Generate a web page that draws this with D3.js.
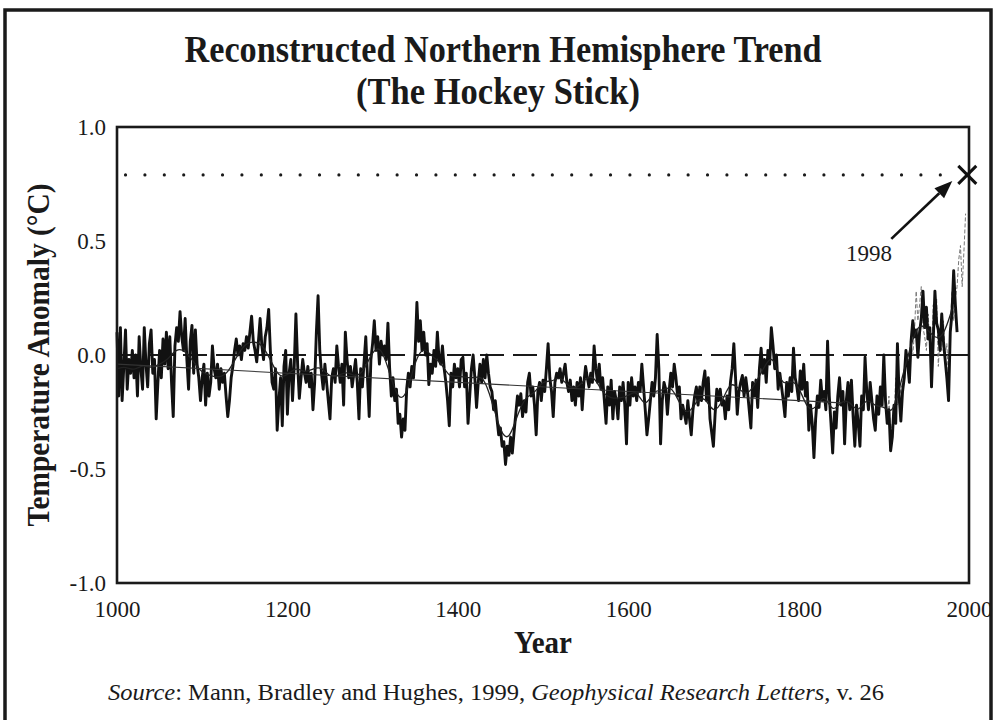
<!DOCTYPE html>
<html>
<head>
<meta charset="utf-8">
<script src="https://cdn.jsdelivr.net/npm/d3@7"></script>
<style>
  body { margin: 0; background: #fff; }
  svg { display: block; }
</style>
</head>
<body>
<script>
// Reconstructed NH temperature anomaly, one value every 2 years
var reconStart = 1000, reconStep = 2;
var recon1000 = [0.10,-0.18,0.12,-0.20,-0.05, 0.11,-0.15,-0.02,-0.08,0.02, -0.10,0.00,-0.18,0.08,-0.06, -0.15,0.12,-0.04,-0.14,0.05,
                 0.11,-0.08,-0.02,-0.28,-0.12, 0.02,-0.10,0.07,-0.04,0.10, -0.06,0.08,-0.12,-0.27,0.04, 0.12,0.06,0.19,0.08,0.02,
                 0.16,-0.02,-0.15,0.06,0.13, -0.08,0.11,-0.04,-0.10,-0.20];
var recon1100 = [-0.10,-0.04,-0.22,-0.08,-0.18, -0.12,0.04,-0.06,-0.10,-0.04, -0.15,-0.06,-0.12,-0.08,-0.18, -0.27,-0.20,-0.10,-0.05,0.02,
                 0.07,0.00,0.04,-0.02,0.05, 0.02,0.08,0.03,0.10,0.17, 0.06,0.02,-0.03,0.06,0.16, 0.04,-0.02,0.08,0.12,0.20,
                 0.02,-0.12,-0.15,-0.06,-0.33, -0.20,-0.10,-0.31,-0.05,0.02];
var recon1200 = [-0.26,-0.08,-0.02,-0.20,-0.05, 0.18,-0.04,-0.19,-0.10,-0.02, -0.08,-0.12,-0.05,-0.14,-0.08, -0.24,-0.12,0.10,0.26,0.02,
                 -0.08,-0.15,-0.04,-0.12,-0.20, -0.28,-0.10,-0.06,-0.12,0.04, -0.05,-0.12,-0.04,-0.22,0.10, -0.02,-0.10,-0.05,-0.14,-0.08,
                 -0.02,-0.12,-0.28,-0.06,-0.14, -0.03,0.08,-0.10,-0.27,-0.02];
var recon1300 = [0.05,0.15,0.02,0.08,-0.04, 0.06,0.00,0.04,-0.02,0.14, -0.06,-0.18,-0.10,-0.20,-0.15, -0.30,-0.26,-0.36,-0.28,-0.33,
                 -0.15,-0.08,-0.14,-0.05,-0.10, 0.02,0.23,0.06,0.15,0.02, 0.10,0.00,0.05,-0.13,-0.04, -0.08,0.02,-0.05,0.10,-0.02,
                 -0.04,0.04,-0.06,-0.12,-0.20, -0.31,-0.08,-0.14,-0.04,-0.10];
var recon1400 = [-0.06,-0.14,-0.02,-0.01,-0.14, -0.08,-0.30,-0.18,-0.06,0.00, -0.10,-0.23,-0.12,-0.04,-0.12, -0.02,-0.10,0.00,-0.08,-0.14,
                 -0.16,-0.24,-0.20,-0.28,-0.35, -0.32,-0.40,-0.38,-0.48,-0.40, -0.44,-0.36,-0.43,-0.34,-0.26, -0.18,-0.22,-0.17,-0.27,-0.20,
                 -0.25,-0.12,-0.08,-0.18,-0.14, -0.22,-0.35,-0.16,-0.12,-0.20];
var recon1500 = [-0.11,-0.16,-0.06,0.05,-0.10, -0.16,-0.27,-0.12,-0.08,-0.10, -0.06,-0.12,-0.08,-0.04,-0.12, -0.16,-0.11,-0.20,-0.14,-0.22,
                 -0.12,-0.18,-0.10,-0.24,-0.12, -0.05,-0.10,-0.14,-0.08,-0.12, 0.04,-0.06,-0.12,-0.04,-0.15, -0.10,-0.20,-0.30,-0.14,-0.22,
                 -0.11,-0.28,-0.16,-0.20,-0.28, -0.14,-0.20,-0.12,-0.22,-0.39];
var recon1600 = [-0.12,-0.22,-0.10,-0.18,-0.14, -0.20,-0.12,-0.16,-0.04,-0.14, -0.24,-0.35,-0.28,-0.20,-0.12, -0.18,-0.10,0.09,-0.06,-0.39,
                 -0.20,-0.12,-0.15,-0.26,-0.16, -0.08,-0.14,-0.04,-0.10,-0.18, -0.14,-0.28,-0.22,-0.26,-0.30, -0.20,-0.28,-0.35,-0.24,-0.18,
                 -0.14,-0.22,-0.14,-0.20,-0.12, -0.07,-0.20,-0.10,-0.28,-0.34];
var recon1700 = [-0.40,-0.26,-0.15,-0.20,-0.15, -0.22,-0.20,-0.28,-0.18,-0.24, -0.12,-0.06,0.05,-0.10,-0.26, -0.16,-0.12,-0.09,-0.18,-0.10,
                 -0.16,-0.24,-0.32,-0.12,-0.18, -0.11,-0.23,-0.06,0.03,-0.08, -0.02,-0.12,0.02,-0.04,0.12, 0.04,-0.06,0.00,-0.15,-0.08,
                 -0.14,-0.20,-0.27,-0.12,-0.18, -0.10,-0.16,0.03,-0.10,-0.14];
var recon1800 = [-0.20,-0.07,-0.15,-0.04,-0.18, -0.12,-0.33,-0.22,-0.30,-0.45, -0.28,-0.18,-0.23,-0.11,-0.20, -0.16,-0.24,0.06,-0.18,-0.30,
                 -0.43,-0.25,-0.32,-0.18,-0.10, -0.22,-0.16,-0.39,-0.20,-0.12, -0.24,-0.11,-0.27,-0.40,-0.22, -0.30,-0.40,-0.18,-0.24,-0.01,
                 -0.16,-0.24,-0.12,-0.20,-0.28, -0.33,-0.18,-0.26,-0.14,-0.22];
var recon1900 = [0.00,-0.20,-0.30,-0.24,-0.42, -0.36,-0.22,-0.30,0.05,-0.18, -0.29,-0.16,-0.10,0.02,-0.04, -0.12,0.06,0.15,0.08,0.11,
                 -0.01,0.10,0.16,0.28,0.12, 0.21,0.07,0.12,-0.14,0.06, 0.28,0.14,0.11,0.02,0.18, 0.06,-0.02,-0.10,-0.20,0.10,
                 0.18,0.37,0.22,0.10];

// 40-year smoothed reconstruction, one value per decade 1000..1980
var smoothStart = 1000, smoothStep = 10;
var smoothValues = [-0.06,-0.05,-0.07,-0.04,-0.06,-0.04,-0.02,0.03,0.02,-0.03,
                    -0.08,-0.09,-0.10,-0.08,-0.01,0.05,0.06,0.05,-0.02,-0.10,
                    -0.09,-0.05,-0.08,-0.06,-0.05,-0.10,-0.09,-0.07,-0.10,-0.07,
                    0.02,0.04,-0.08,-0.20,-0.18,-0.02,0.04,-0.01,-0.03,-0.10,
                    -0.09,-0.10,-0.10,-0.09,-0.20,-0.34,-0.38,-0.26,-0.18,-0.17,
                    -0.11,-0.12,-0.09,-0.14,-0.15,-0.10,-0.09,-0.17,-0.19,-0.19,
                    -0.18,-0.15,-0.24,-0.15,-0.16,-0.13,-0.21,-0.27,-0.20,-0.18,
                    -0.26,-0.21,-0.11,-0.15,-0.18,-0.12,-0.05,0.01,-0.14,-0.11,
                    -0.13,-0.24,-0.24,-0.16,-0.26,-0.20,-0.20,-0.26,-0.18,-0.23,
                    -0.22,-0.27,-0.12,0.02,0.14,0.12,0.07,0.08,0.20];

// instrumental record (thin grey), every 2 years 1902..1996
var instStart = 1902, instStep = 2;
var instValues = [-0.20,-0.30,-0.18,-0.35,-0.30,-0.28,-0.10,-0.22,-0.20,-0.15,-0.12,-0.10,0.00,-0.05,0.02,0.05,
                  0.00,0.10,0.28,0.15,0.22,0.30,0.12,0.08,0.02,0.18,0.05,-0.05,0.22,0.15,0.25,-0.05,
                  0.08,0.02,0.15,0.00,0.05,-0.12,0.12,0.28,0.15,0.25,0.30,0.42,0.48,0.30,0.45,0.62];

// linear trend 1000-1850
var trendYears = [1000, 1850];
var trendValues = [-0.04, -0.21];

var peakYear = 1998, peakValue = 0.79;
var zeroDashEnd = 1925;

var xTicks = [1000, 1200, 1400, 1600, 1800, 2000];
var yTicks = [-1.0, -0.5, 0.0, 0.5, 1.0];

var serif = "'Liberation Serif', 'Times New Roman', serif";

var svg = d3.select("body").append("svg")
    .attr("width", 996)
    .attr("height", 720);

// outer frame
svg.append("rect")
    .attr("x", 5).attr("y", 10)
    .attr("width", 986).attr("height", 740)
    .attr("fill", "none")
    .attr("stroke", "#1a1a1a")
    .attr("stroke-width", 3.5);

var x = d3.scaleLinear().domain([1000, 2000]).range([117, 969]);
var y = d3.scaleLinear().domain([-1, 1]).range([583, 127]);

// titles (condensed face in the original, so squeeze a larger size)
svg.append("text")
    .attr("x", 503).attr("y", 62)
    .attr("text-anchor", "middle")
    .attr("font-family", serif).attr("font-weight", "bold").attr("font-size", 37)
    .attr("textLength", 637).attr("lengthAdjust", "spacingAndGlyphs")
    .attr("fill", "#1a1a1a")
    .text("Reconstructed Northern Hemisphere Trend");
svg.append("text")
    .attr("x", 498).attr("y", 104)
    .attr("text-anchor", "middle")
    .attr("font-family", serif).attr("font-weight", "bold").attr("font-size", 37)
    .attr("textLength", 284).attr("lengthAdjust", "spacingAndGlyphs")
    .attr("fill", "#1a1a1a")
    .text("(The Hockey Stick)");

// zero line: dashed, then solid over the last decades
svg.append("line")
    .attr("x1", x(1000)).attr("x2", x(zeroDashEnd))
    .attr("y1", y(0)).attr("y2", y(0))
    .attr("stroke", "#1a1a1a").attr("stroke-width", 2)
    .attr("stroke-dasharray", "24,9");
svg.append("line")
    .attr("x1", x(zeroDashEnd)).attr("x2", x(2000))
    .attr("y1", y(0)).attr("y2", y(0))
    .attr("stroke", "#1a1a1a").attr("stroke-width", 2);

// dotted 1998 level
svg.append("line")
    .attr("x1", x(1010)).attr("x2", x(1975))
    .attr("y1", y(peakValue)).attr("y2", y(peakValue))
    .attr("stroke", "#1a1a1a").attr("stroke-width", 3.2)
    .attr("stroke-linecap", "round")
    .attr("stroke-dasharray", "0,19.4");

var recon = [].concat(recon1000, recon1100, recon1200, recon1300, recon1400,
                      recon1500, recon1600, recon1700, recon1800, recon1900);

var line = d3.line()
    .x(function(d) { return x(d[0]); })
    .y(function(d) { return y(d[1]); });

// instrumental
svg.append("path")
    .datum(instValues.map(function(v, i) { return [instStart + i * instStep, v]; }))
    .attr("d", line)
    .attr("fill", "none")
    .attr("stroke", "#777")
    .attr("stroke-width", 1)
    .attr("stroke-dasharray", "4,2");

// reconstruction (heavy)
svg.append("path")
    .datum(recon.map(function(v, i) { return [reconStart + i * reconStep, v]; }))
    .attr("d", line)
    .attr("fill", "none")
    .attr("stroke", "#111")
    .attr("stroke-width", 2.9)
    .attr("stroke-linejoin", "round");

// smoothed
svg.append("path")
    .datum(smoothValues.map(function(v, i) { return [smoothStart + i * smoothStep, v]; }))
    .attr("d", line.curve(d3.curveBasis))
    .attr("fill", "none")
    .attr("stroke", "#222")
    .attr("stroke-width", 1.3);

// linear trend
svg.append("line")
    .attr("x1", x(trendYears[0])).attr("x2", x(trendYears[1]))
    .attr("y1", y(trendValues[0])).attr("y2", y(trendValues[1]))
    .attr("stroke", "#333").attr("stroke-width", 1.1);

// plot frame
svg.append("rect")
    .attr("x", x(1000)).attr("y", y(1))
    .attr("width", x(2000) - x(1000)).attr("height", y(-1) - y(1))
    .attr("fill", "none")
    .attr("stroke", "#1a1a1a")
    .attr("stroke-width", 2.6);

// axes
var xAxis = svg.append("g")
    .attr("transform", "translate(0," + y(-1) + ")")
    .call(d3.axisBottom(x).tickValues(xTicks).tickSize(0).tickPadding(18).tickFormat(d3.format("d")));
var yAxis = svg.append("g")
    .attr("transform", "translate(" + x(1000) + ",0)")
    .call(d3.axisLeft(y).tickValues(yTicks).tickSize(0).tickPadding(11)
          .tickFormat(function(d) { return d.toFixed(1); }));
[xAxis, yAxis].forEach(function(g) {
    g.select(".domain").remove();
    g.selectAll("text")
        .attr("font-family", serif)
        .attr("font-size", 23)
        .attr("fill", "#1a1a1a");
});

// axis titles
svg.append("text")
    .attr("x", (x(1000) + x(2000)) / 2).attr("y", 653)
    .attr("text-anchor", "middle")
    .attr("font-family", serif).attr("font-weight", "bold").attr("font-size", 31)
    .attr("textLength", 58).attr("lengthAdjust", "spacingAndGlyphs")
    .attr("fill", "#1a1a1a")
    .text("Year");
svg.append("text")
    .attr("transform", "translate(49," + y(0) + ") rotate(-90)")
    .attr("text-anchor", "middle")
    .attr("font-family", serif).attr("font-weight", "bold").attr("font-size", 31)
    .attr("textLength", 343).attr("lengthAdjust", "spacingAndGlyphs")
    .attr("fill", "#1a1a1a")
    .text("Temperature Anomaly (\u00B0C)");

// 1998 marker, arrow and label
var px = x(peakYear), py = y(peakValue);
svg.append("path")
    .attr("d", "M" + (px - 9) + "," + (py - 9) + "L" + (px + 9) + "," + (py + 9) +
               "M" + (px + 9) + "," + (py - 9) + "L" + (px - 9) + "," + (py + 9))
    .attr("stroke", "#111").attr("stroke-width", 3);

var tip = [px - 15, py + 6], tail = [px - 76, py + 64];
var ang = Math.atan2(tip[1] - tail[1], tip[0] - tail[0]);
var hl = 18, hw = 7;
var bx = tip[0] - hl * Math.cos(ang), by = tip[1] - hl * Math.sin(ang);
svg.append("line")
    .attr("x1", tail[0]).attr("y1", tail[1])
    .attr("x2", bx).attr("y2", by)
    .attr("stroke", "#111").attr("stroke-width", 2.6);
svg.append("path")
    .attr("d", "M" + tip[0] + "," + tip[1] +
               "L" + (bx + hw * Math.sin(ang)) + "," + (by - hw * Math.cos(ang)) +
               "L" + (bx - hw * Math.sin(ang)) + "," + (by + hw * Math.cos(ang)) + "Z")
    .attr("fill", "#111");
svg.append("text")
    .attr("x", 869).attr("y", 261)
    .attr("text-anchor", "middle")
    .attr("font-family", serif).attr("font-size", 23)
    .attr("fill", "#1a1a1a")
    .text(String(peakYear));

// source line
var src = svg.append("text")
    .attr("x", 496).attr("y", 700)
    .attr("text-anchor", "middle")
    .attr("font-family", serif).attr("font-size", 24)
    .attr("textLength", 776).attr("lengthAdjust", "spacingAndGlyphs")
    .attr("fill", "#1a1a1a");
src.append("tspan").attr("font-style", "italic").text("Source");
src.append("tspan").text(": Mann, Bradley and Hughes, 1999, ");
src.append("tspan").attr("font-style", "italic").text("Geophysical Research Letters");
src.append("tspan").text(", v. 26");
</script>
</body>
</html>
